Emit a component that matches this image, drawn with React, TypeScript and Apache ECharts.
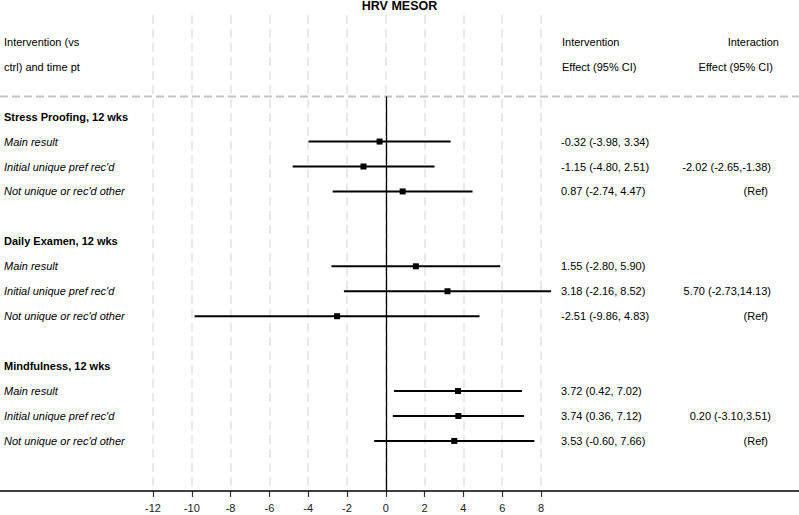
import React, { useEffect, useRef } from "react";
import * as echarts from "echarts";

// ---- data ----
const titleText = "HRV MESOR";
const groupLabels = ["Stress Proofing, 12 wks", "Daily Examen, 12 wks", "Mindfulness, 12 wks"];
const subgroupLabels = ["Main result", "Initial unique pref rec'd", "Not unique or rec'd other"];
const estimates = [
  [-0.32, -1.15, 0.87],
  [1.55, 3.18, -2.51],
  [3.72, 3.74, 3.53],
];
const lowerCI = [
  [-3.98, -4.8, -2.74],
  [-2.8, -2.16, -9.86],
  [0.42, 0.36, -0.6],
];
const upperCI = [
  [3.34, 2.51, 4.47],
  [5.9, 8.52, 4.83],
  [7.02, 7.12, 7.66],
];
const interactionEst = [-2.02, 5.7, 0.2];
const interactionLo = [-2.65, -2.73, -3.1];
const interactionHi = [-1.38, 14.13, 3.51];
const refLabel = "(Ref)";
const headerLeft = ["Intervention (vs", "ctrl) and time pt"];
const headerMid = ["Intervention", "Effect (95% CI)"];
const headerRight = ["Interaction", "Effect (95% CI)"];
const xMin = -12;
const xMax = 8;
const xStep = 2;

// ---- layout constants ----
const W = 799;
const H = 515;
const FONT = "'Liberation Sans', Arial, Helvetica, sans-serif";
const ROW0_Y = 116.6;
const ROW_H = 24.95;
const GRID_TOP = 15;
const AXIS_Y = 491;
const PLOT_LEFT = 153;
const PLOT_RIGHT = 541;
const SEP_Y = 96.5;

const rowAt = (py: number) => (py - ROW0_Y) / ROW_H;

const f2 = (v: number) => v.toFixed(2);

type TextItem = {
  row: number;
  text: string;
  x: number;
  align: "left" | "right" | "center";
  weight?: string;
  italic?: boolean;
};

function buildTexts(): TextItem[] {
  const items: TextItem[] = [];
  headerLeft.forEach((t, i) => items.push({ row: -3 + i, text: t, x: 4, align: "left" }));
  headerMid.forEach((t, i) => items.push({ row: -3 + i, text: t, x: 562, align: "left" }));
  items.push({ row: -3, text: headerRight[0], x: 779, align: "right" });
  items.push({ row: -2, text: headerRight[1], x: 773, align: "right" });
  groupLabels.forEach((g, gi) => {
    const base = gi * 5;
    items.push({ row: base, text: g, x: 4, align: "left", weight: "bold" });
    subgroupLabels.forEach((s, si) => {
      const r = base + 1 + si;
      items.push({ row: r, text: s, x: 4, align: "left", italic: true });
      items.push({
        row: r,
        text: `${f2(estimates[gi][si])} (${f2(lowerCI[gi][si])}, ${f2(upperCI[gi][si])})`,
        x: 561,
        align: "left",
      });
    });
    items.push({
      row: base + 2,
      text: `${f2(interactionEst[gi])} (${f2(interactionLo[gi])},${f2(interactionHi[gi])})`,
      x: 771,
      align: "right",
    });
    items.push({ row: base + 3, text: refLabel, x: 768, align: "right" });
  });
  return items;
}

function buildBars() {
  const out: number[][] = [];
  groupLabels.forEach((_, gi) => {
    subgroupLabels.forEach((__, si) => {
      out.push([estimates[gi][si], gi * 5 + 1 + si, lowerCI[gi][si], upperCI[gi][si]]);
    });
  });
  return out;
}

export default function App() {
  const ref = useRef<HTMLDivElement>(null);
  useEffect(() => {
    if (!ref.current) return;
    const chart = echarts.init(ref.current, undefined, { renderer: "svg" });
    const texts = buildTexts();
    const bars = buildBars();
    const yMin = rowAt(GRID_TOP);
    const yMax = rowAt(AXIS_Y);
    chart.setOption({
      animation: false,
      backgroundColor: "#ffffff",
      textStyle: { fontFamily: FONT },
      title: {
        text: titleText,
        left: "center",
        top: -1,
        padding: 0,
        textStyle: { fontSize: 12.5, fontWeight: "bold", color: "#000", fontFamily: FONT },
      },
      grid: {
        left: PLOT_LEFT,
        right: W - PLOT_RIGHT,
        top: GRID_TOP,
        bottom: H - AXIS_Y,
        containLabel: false,
      },
      xAxis: {
        type: "value",
        position: "bottom",
        min: xMin,
        max: xMax,
        interval: xStep,
        axisLine: { show: false, onZero: false },
        axisTick: { show: true, length: 6, lineStyle: { color: "#333", width: 1.2 } },
        axisLabel: { show: true, fontSize: 11, color: "#222", margin: 11, fontFamily: FONT },
        splitLine: { show: true, lineStyle: { color: "#e2e2e2", width: 1.5, type: [9, 5] } },
      },
      yAxis: {
        type: "value",
        inverse: true,
        min: yMin,
        max: yMax,
        show: false,
        splitLine: { show: false },
      },
      graphic: [
        {
          type: "line",
          shape: { x1: 0, y1: AXIS_Y, x2: W, y2: AXIS_Y },
          style: { stroke: "#000", lineWidth: 1.3 },
          z: 10,
        },
        {
          type: "line",
          shape: { x1: 0, y1: SEP_Y, x2: W, y2: SEP_Y },
          style: { stroke: "#c4c4c4", lineWidth: 1.8, lineDash: [8, 4] },
          z: 5,
        },
      ],
      series: [
        {
          type: "custom",
          clip: false,
          encode: { x: [0, 2, 3], y: 1 },
          data: bars,
          renderItem: (params: any, api: any) => {
            const r = api.value(1);
            const p = api.coord([api.value(0), r]);
            const lo = api.coord([api.value(2), r]);
            const hi = api.coord([api.value(3), r]);
            const s = 6;
            return {
              type: "group",
              children: [
                {
                  type: "line",
                  shape: { x1: lo[0], y1: lo[1], x2: hi[0], y2: hi[1] },
                  style: { stroke: "#000", lineWidth: 2 },
                },
                {
                  type: "rect",
                  shape: { x: p[0] - s / 2, y: p[1] - s / 2, width: s, height: s },
                  style: { fill: "#000" },
                },
              ],
            };
          },
          markLine: {
            silent: true,
            symbol: "none",
            label: { show: false },
            lineStyle: { color: "#000", width: 1.3, type: "solid" },
            data: [[{ coord: [0, rowAt(SEP_Y)] }, { coord: [0, yMax] }]],
          },
          z: 8,
        },
        {
          type: "custom",
          clip: false,
          data: texts.map((t) => [0, t.row]),
          encode: { x: 0, y: 1 },
          renderItem: (params: any, api: any) => {
            const t = texts[params.dataIndex];
            const y = api.coord([0, t.row])[1];
            return {
              type: "text",
              x: t.x,
              y,
              style: {
                text: t.text,
                fontSize: 11,
                fontFamily: FONT,
                fontWeight: t.weight || "normal",
                fontStyle: t.italic ? "italic" : "normal",
                fill: "#000",
                align: t.align,
                verticalAlign: "middle",
              },
            };
          },
          z: 9,
        },
      ],
    });
    return () => chart.dispose();
  }, []);
  return (
    <div
      ref={ref}
      style={{ position: "fixed", left: 0, top: 0, width: W, height: H, background: "#fff" }}
    />
  );
}
